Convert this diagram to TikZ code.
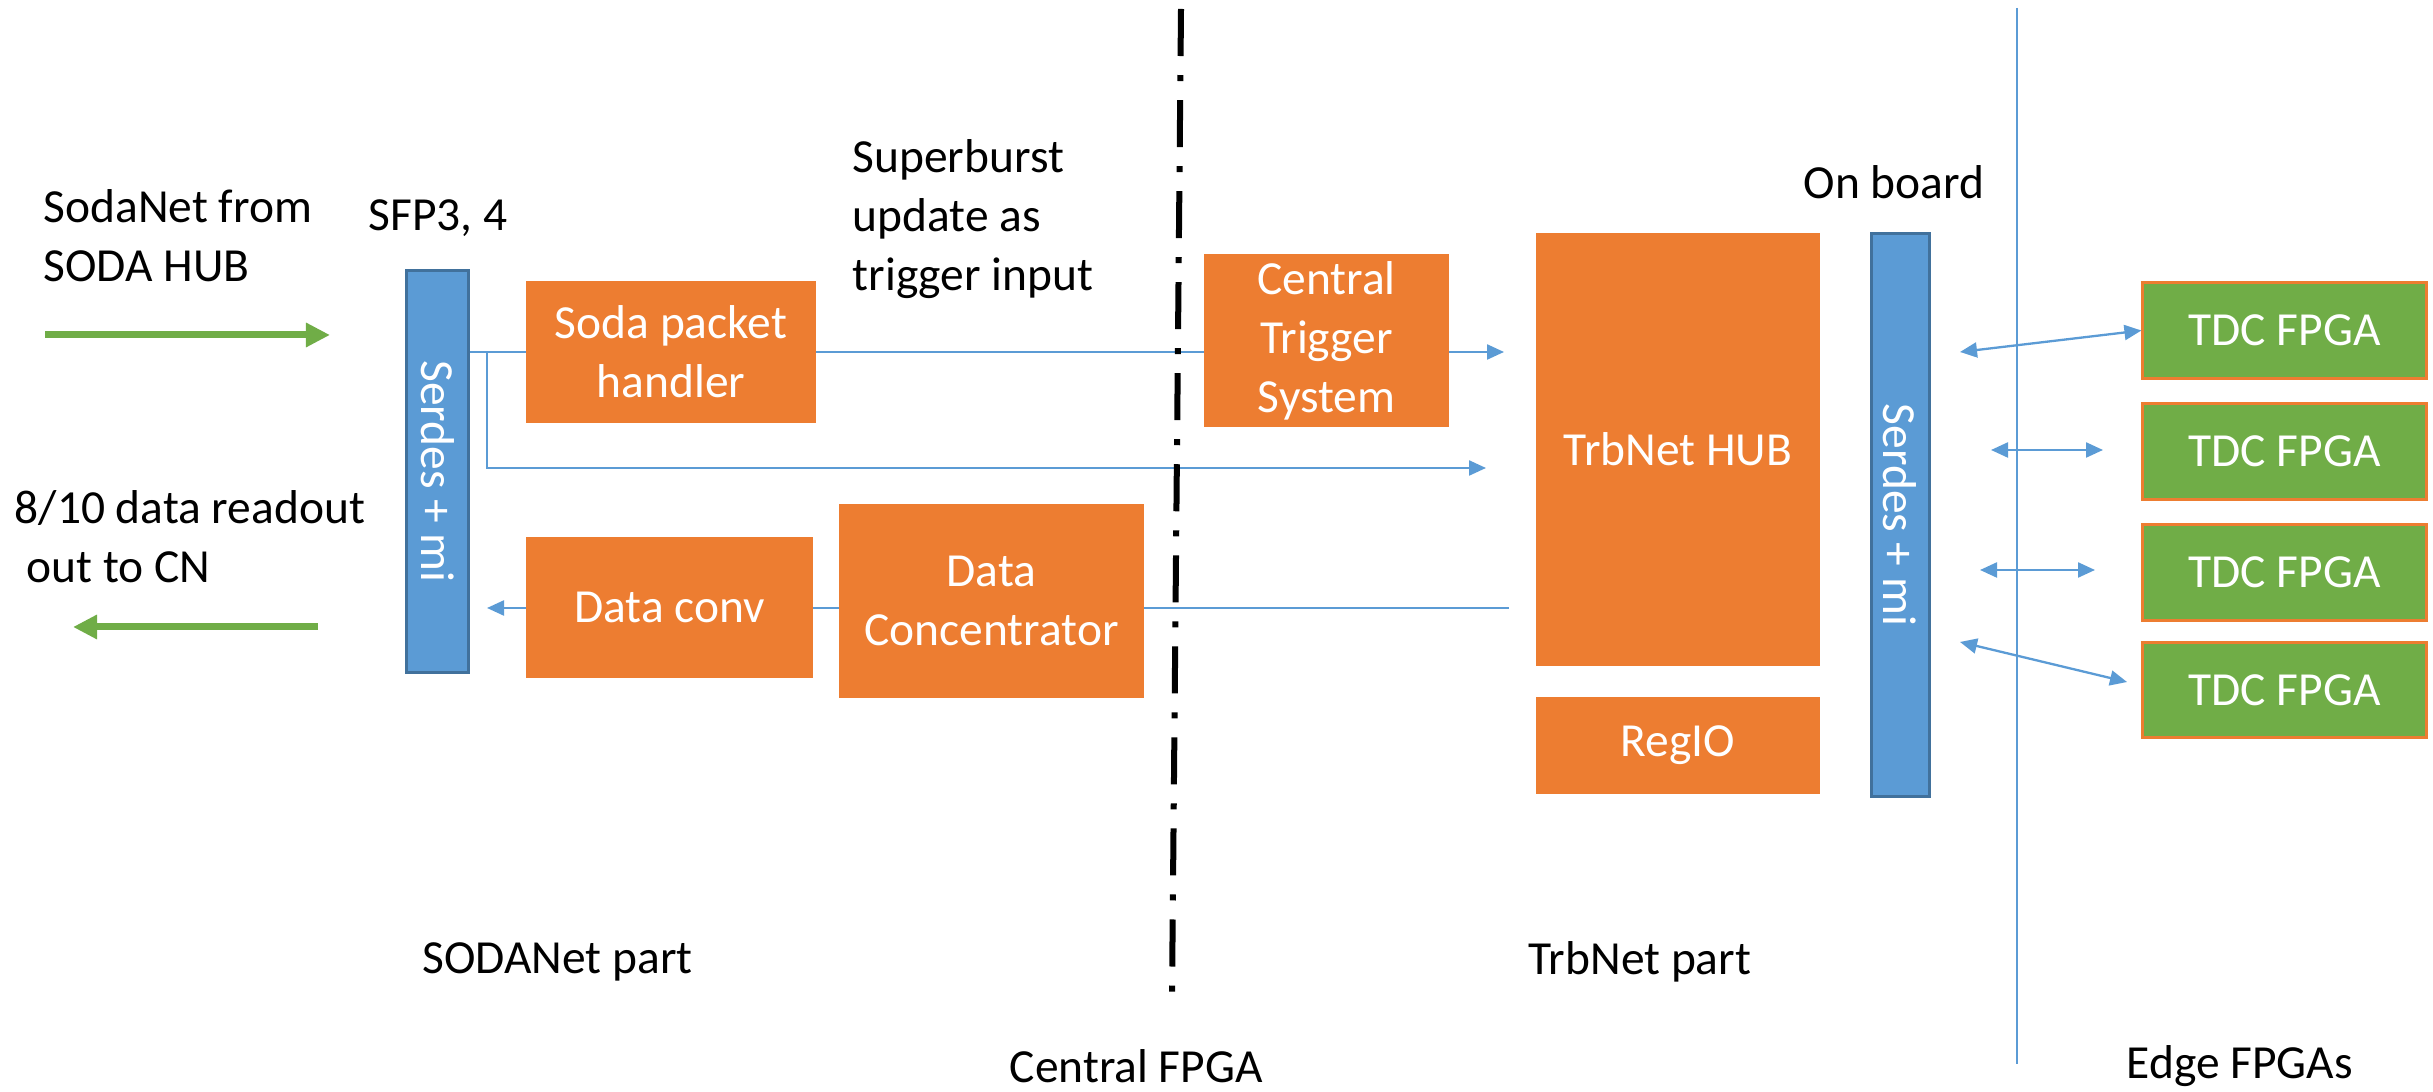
\documentclass[tikz,border=0pt]{standalone}
\usepackage{fontspec}
\setmainfont{Carlito}
\usetikzlibrary{arrows.meta,positioning,backgrounds}

\definecolor{boxorange}{HTML}{ED7D31}
\definecolor{linkblue}{HTML}{5B9BD5}
\definecolor{serdesedge}{HTML}{41719C}
\definecolor{tdcgreen}{HTML}{70AD47}

\tikzset{
  block/.style={fill=boxorange, text=white, align=center, inner sep=0pt},
  serdes/.style={fill=linkblue, draw=serdesedge, line width=0.03cm, text=white, inner sep=0pt},
  tdc/.style={fill=tdcgreen, draw=boxorange, line width=0.03cm, text=white,
    minimum width=2.83cm, minimum height=0.95cm, inner sep=0pt},
  flow/.style={draw=linkblue, line width=0.023cm, -{Triangle[length=0.17cm,width=0.15cm]}},
  link/.style={flow, {Triangle[length=0.17cm,width=0.15cm]}-{Triangle[length=0.17cm,width=0.15cm]}},
  feed/.style={draw=tdcgreen, line width=0.07cm, -{Triangle[length=0.24cm,width=0.23cm]}},
  note/.style={align=left, inner sep=0pt, anchor=west},
  caption/.style={inner sep=0pt, anchor=base west},
}

\begin{document}
\begin{tikzpicture}[x=0.01cm, y=-0.01cm, font=\fontsize{13.5}{16.8}\selectfont]
  \useasboundingbox (0,0) rectangle (2433,1092);

  % central FPGA, SODANet side
  \node[serdes, minimum width=0.61cm, minimum height=4.01cm] (sfp) at (437.5,471.5) {\rotatebox{-90}{Serdes + mi}};
  \node[block, minimum width=2.90cm, minimum height=1.42cm] (soda) at (671,352) {Soda packet\\handler};
  \node[block, minimum width=2.87cm, minimum height=1.41cm] (conv) at (669.5,607.5) {Data conv};
  \node[block, minimum width=3.05cm, minimum height=1.94cm] (conc) at (991.5,601) {Data\\Concentrator};

  % central FPGA, TrbNet side
  \node[block, minimum width=2.45cm, minimum height=1.73cm] (cts) at (1326.5,340.5) {Central\\Trigger\\System};
  \node[block, minimum width=2.84cm, minimum height=4.33cm] (hub) at (1678,449.5) {TrbNet HUB};
  \node[block, minimum width=2.84cm, minimum height=0.97cm] (regio) at (1678,745.5) {RegIO};
  \node[serdes, minimum width=0.58cm, minimum height=5.62cm] (board) at (1900,515) {\rotatebox{-90}{Serdes + mi}};

  % edge FPGAs
  \node[tdc] (tdc1) at (2284.5,330.5) {TDC FPGA};
  \node[tdc] (tdc2) at (2284.5,451.5) {TDC FPGA};
  \node[tdc] (tdc3) at (2284.5,572.5) {TDC FPGA};
  \node[tdc] (tdc4) at (2284.5,690) {TDC FPGA};

  % free ends of the links
  \coordinate (sodaIn) at (45,335);
  \coordinate (sodaInEnd) at (330,335);
  \coordinate (cnOut) at (318,627);
  \coordinate (cnOutEnd) at (73,627);
  \coordinate (split) at (487,352);
  \coordinate (splitLow) at (487,468);
  \coordinate (hubTrg) at (1504,352);
  \coordinate (hubRaw) at (1486,468);
  \coordinate (hubOut) at (1509,608);
  \coordinate (convOut) at (487,608);
  \coordinate (b1) at (1960,352);
  \coordinate (b2) at (1991,450);
  \coordinate (t2) at (2103,450);
  \coordinate (b3) at (1980,570);
  \coordinate (t3) at (2095,570);
  \coordinate (b4) at (1960,642);
  \coordinate (t4) at (2127,682);

  % connectors run under the blocks
  \begin{scope}[on background layer]
    \draw[flow] (sfp.east |- split) -- (hubTrg);
    \draw[flow] (split) -- (splitLow) -- (hubRaw);
    \draw[flow] (hubOut) -- (convOut);
  \end{scope}

  \draw[link] (b1) -- (tdc1.west);
  \draw[link] (b2) -- (t2);
  \draw[link] (b3) -- (t3);
  \draw[link] (b4) -- (t4);

  \draw[feed] (sodaIn) -- (sodaInEnd);
  \draw[feed] (cnOut) -- (cnOutEnd);

  % separators
  \draw[line width=0.06cm, dash pattern=on 0.47cm off 0.19cm on 0.06cm off 0.19cm] (1181,9) -- (1172,995);
  \draw[linkblue, line width=0.02cm] (2017,8) -- (2017,1064);

  % labels
  \node[note] (sodaTxt) at (43,235.5) {SodaNet from\\SODA HUB};
  \node[note] (cnTxt) at (14,536.5) {8/10 data readout\\\hspace{0.12cm}out to CN};
  \node[note] (sfpTxt) at (368,218) {SFP3, 4};
  \node[note] (burstTxt) at (852,219) {Superburst\\update as\\trigger input};
  \node[note] (boardTxt) at (1803,182) {On board};
  \node[note] (sodaPart) at (422,962) {SODANet part};
  \node[note] (trbPart) at (1528,962) {TrbNet part};
  \node[caption] (centralTxt) at (1009,1083) {Central FPGA};
  \node[caption] (edgeTxt) at (2126,1079) {Edge FPGAs};
\end{tikzpicture}
\end{document}
